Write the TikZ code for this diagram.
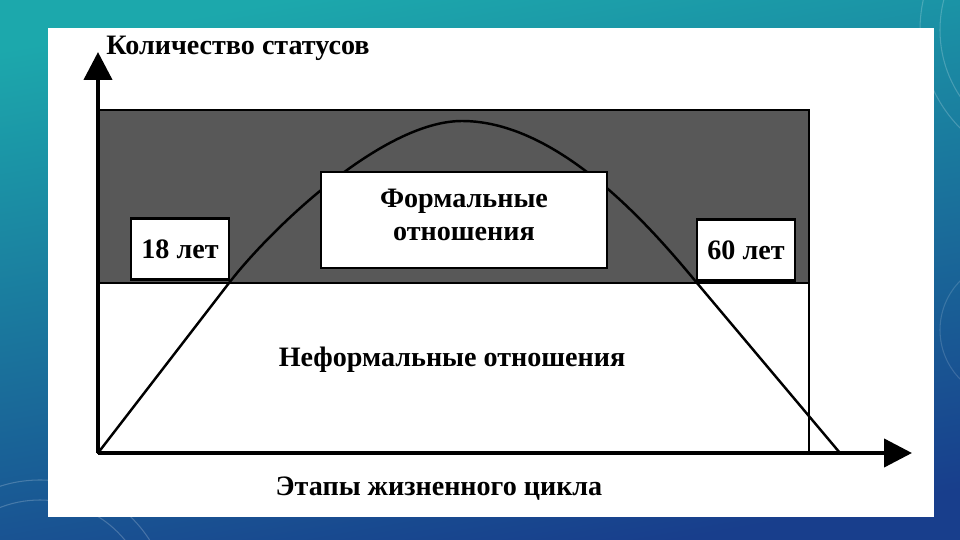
\documentclass[tikz,border=0pt]{standalone}
\usepackage{fontspec}
\setmainfont{Liberation Serif}
\usetikzlibrary{arrows.meta}
\definecolor{bgteal}{RGB}{28,168,172}
\definecolor{bgblue}{RGB}{24,62,140}
\definecolor{bandgray}{RGB}{88,88,88}
\begin{document}
\begin{tikzpicture}[x=0.02cm,y=-0.02cm,
  lbl/.style={font=\fontsize{16}{18}\selectfont\bfseries, align=center, inner sep=0pt},
  agebox/.style={draw, line width=1.6pt, fill=white, minimum width=98*0.02cm, minimum height=61*0.02cm, inner sep=0pt},
  axis/.style={line width=2.4pt, -{Triangle[length=0.56cm,width=0.56cm]}}]
\useasboundingbox (0,0) rectangle (960,540);
% slide background
\shade[top color=bgteal, bottom color=bgblue, shading angle=10] (0,0) rectangle (960,540);
\begin{scope}
\clip (0,0) rectangle (960,540);
\draw[white, opacity=0.2, line width=0.6pt] (40,610) circle (110) (40,610) circle (130);
\draw[white, opacity=0.2, line width=0.6pt] (1060,30) circle (120) (1060,30) circle (140);
\draw[white, opacity=0.15, line width=0.6pt] (1010,330) circle (70);
\end{scope}
% white card
\fill[white] (48,28) rectangle (934,517);
% bands
\draw[line width=1.6pt, fill=bandgray] (98,110) rectangle (809,283);
\draw[line width=1.2pt, fill=white] (98,283) rectangle (809,453);
% life curve
\coordinate (c0) at (98,453);
\coordinate (c1) at (229,283);
\coordinate (peak) at (462,121);
\coordinate (c2) at (697,283);
\coordinate (c3) at (840,453);
\draw[line width=1.4pt] (c0) -- (c1)
  .. controls (269,231) and (382,121) .. (peak)
  .. controls (562,121) and (657,235) .. (c2) -- (c3);
% boxes
\node[agebox] (y18) at (180,249) {};
\node[lbl] at (y18) {18 лет};
\node[agebox] (y60) at (746,250) {};
\node[lbl] at (y60) {60 лет};
\node[draw, line width=1.6pt, fill=white, minimum width=286*0.02cm, minimum height=96*0.02cm] (formal) at (464,220) {};
\node[lbl] at (464,215) {Формальные\\[1pt]отношения};
\node[lbl] (informal) at (452,360) {Неформальные отношения};
% axes
\draw[axis] (c0) -- (98,52);
\draw[axis] (c0) -- (912,453);
\node[lbl, anchor=west] (ylab) at (106,48) {Количество статусов};
\node[lbl] (xlab) at (439,489) {Этапы жизненного цикла};
\end{tikzpicture}
\end{document}
